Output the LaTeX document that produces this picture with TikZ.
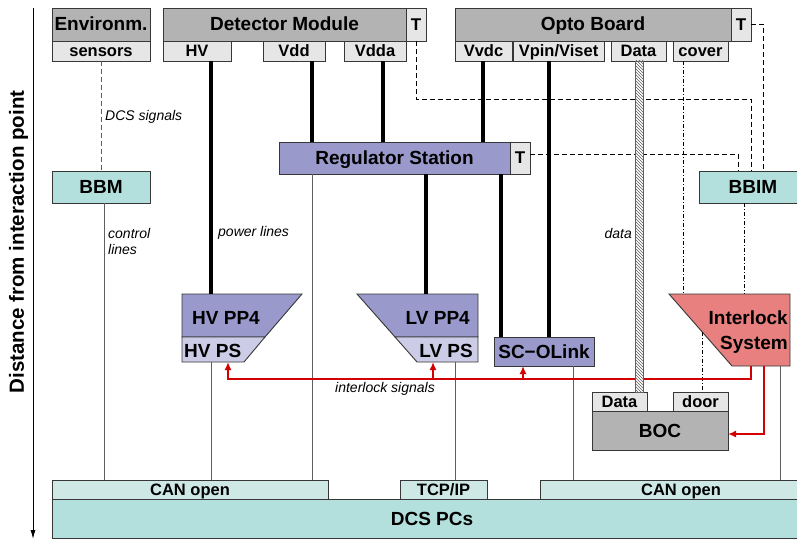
\documentclass[tikz,border=0pt]{standalone}
\usepackage{fontspec}
\setmainfont{Liberation Sans}
\usepackage{tikz}
\usetikzlibrary{shapes,arrows.meta,positioning,calc,patterns}
\definecolor{boxgray}{RGB}{179,179,179}
\definecolor{portgray}{RGB}{230,230,230}
\definecolor{regblue}{RGB}{153,153,204}
\definecolor{psblue}{RGB}{204,204,230}
\definecolor{bbteal}{RGB}{179,223,221}
\definecolor{canteal}{RGB}{206,232,230}
\definecolor{lockred}{RGB}{232,128,128}
\definecolor{sigred}{RGB}{210,0,0}
\definecolor{edgegray}{RGB}{55,55,55}
\definecolor{wiregray}{RGB}{95,95,95}

\begin{document}
\begin{tikzpicture}[
    x=1pt, y=-1pt,
    box/.style={rectangle, draw=edgegray, line width=0.9pt, inner sep=0pt, outer sep=0pt, align=center, text height=13.6pt, text depth=0.6pt, font=\fontsize{19}{25}\selectfont\bfseries},
    port/.style={box, fill=portgray, minimum height=20pt, text height=11.8pt, text depth=0.6pt, font=\fontsize{16.5}{18}\selectfont\bfseries},
    tbox/.style={box, fill=portgray, minimum width=20pt, text height=12.2pt, text depth=0.6pt, font=\fontsize{17}{18}\selectfont\bfseries},
    bold/.style={inner sep=0pt, text height=13.6pt, text depth=0.6pt, align=center, font=\fontsize{19}{25}\selectfont\bfseries},
    note/.style={inner sep=0pt, align=left, font=\fontsize{14}{16}\selectfont\itshape},
    outline/.style={draw=edgegray, line width=0.9pt, line join=miter},
    power/.style={line width=3.5pt, black},
    wire/.style={line width=1pt, wiregray},
    sensline/.style={line width=1pt, wiregray, dash pattern=on 5pt off 3pt},
    tline/.style={line width=0.8pt, black, dash pattern=on 5pt off 3pt},
    dotline/.style={line width=0.8pt, black, dash pattern=on 4pt off 2pt on 1pt off 2pt},
    sigline/.style={line width=2pt, sigred},
    sigarrow/.style={sigline, -{Latex[length=8pt,width=7pt]}},
    distaxis/.style={line width=1pt, black, -{Latex[length=9pt,width=5pt]}}
]
\useasboundingbox (0,0) rectangle (797,540);

% top row: modules and their service ports
\node[box, fill=boxgray, minimum width=98pt, minimum height=33pt] (env) at (101,24.5) {Environm.};
\node[port, minimum width=98pt] (sensors) at (101,51) {sensors};

\node[box, fill=boxgray, minimum width=243pt, minimum height=33pt] (detmod) at (284.5,24.5) {Detector Module};
\node[tbox, minimum height=33pt] (detT) at (416,24.5) {T};
\node[port, minimum width=68pt] (hv) at (197,51) {HV};
\node[port, minimum width=62pt] (vdd) at (294,51) {Vdd};
\node[port, minimum width=62pt] (vdda) at (375,51) {Vdda};

\node[box, fill=boxgray, minimum width=276pt, minimum height=33pt] (opto) at (593,24.5) {Opto Board};
\node[tbox, minimum height=33pt] (optoT) at (741,24.5) {T};
\node[port, minimum width=57pt] (vvdc) at (483.5,51) {Vvdc};
\node[port, minimum width=91pt] (vpin) at (558.5,51) {Vpin/Viset};
\node[port, minimum width=55pt] (data) at (638.5,51) {Data};
\node[port, minimum width=55pt] (cover) at (700.5,51) {cover};

% middle: regulator, monitors
\node[box, fill=regblue, minimum width=231pt, minimum height=32pt] (regst) at (394.5,158) {Regulator Station};
\node[tbox, minimum height=32pt] (regT) at (520,158) {T};
\node[box, fill=bbteal, minimum width=98pt, minimum height=32pt] (bbm) at (101,187) {BBM};
\node[box, fill=bbteal, minimum width=108pt, minimum height=32pt] (bbim) at (753,187) {BBIM};

% patch panels and power supplies
\coordinate (hvnw) at (182,294);
\coordinate (hvne) at (302,294);
\coordinate (hvw) at (182,337);
\coordinate (hve) at (265,337);
\coordinate (hvse) at (244,362);
\coordinate (hvsw) at (182,362);
\filldraw[outline, fill=regblue] (hvnw) -- (hvne) -- (hve) -- (hvw) -- cycle;
\filldraw[outline, fill=psblue] (hvw) -- (hve) -- (hvse) -- (hvsw) -- cycle;
\node[bold, anchor=west] (hvpp) at (192,318) {HV PP4};
\node[bold, anchor=west] (hvps) at (184,351) {HV PS};

\coordinate (lvnw) at (357,294);
\coordinate (lvne) at (478,294);
\coordinate (lvw) at (395,337);
\coordinate (lve) at (478,337);
\coordinate (lvse) at (478,362);
\coordinate (lvsw) at (417,362);
\filldraw[outline, fill=regblue] (lvnw) -- (lvne) -- (lve) -- (lvw) -- cycle;
\filldraw[outline, fill=psblue] (lvw) -- (lve) -- (lvse) -- (lvsw) -- cycle;
\node[bold, anchor=east] (lvpp) at (470,318) {LV PP4};
\node[bold, anchor=east] (lvps) at (473,351) {LV PS};

\node[box, fill=regblue, minimum width=100pt, minimum height=29pt] (scolink) at (544,351.5) {SC−OLink};

% interlock system
\coordinate (ilnw) at (669,294);
\coordinate (ilne) at (790,294);
\coordinate (ilse) at (790,366);
\coordinate (ilsw) at (732,366);
\filldraw[outline, fill=lockred] (ilnw) -- (ilne) -- (ilse) -- (ilsw) -- cycle;
\node[bold, align=right, anchor=east] (ilsys) at (788,343) {Interlock\\System};

% BOC
\node[port, minimum width=55pt, minimum height=19pt] (bocdata) at (619.5,401.5) {Data};
\node[port, minimum width=55pt, minimum height=19pt] (door) at (700.5,401.5) {door};
\node[box, fill=boxgray, minimum width=136pt, minimum height=39pt] (boc) at (660,430.5) {BOC};

% DCS computers
\node[port, fill=canteal, minimum width=276pt, minimum height=19pt] (canl) at (190,489.5) {CAN open};
\node[port, fill=canteal, minimum width=87pt, minimum height=19pt] (tcpip) at (443.5,489.5) {TCP/IP};
\node[port, fill=canteal, minimum width=282pt, minimum height=19pt] (canr) at (681,489.5) {CAN open};
\node[box, fill=bbteal, minimum width=760pt, minimum height=39pt] (dcs) at (432,518.5) {DCS PCs};

% lanes of the vertical lines
\coordinate (ctrllane) at (104,0);
\coordinate (hvlane) at (211,0);
\coordinate (vddlane) at (312,0);
\coordinate (vddalane) at (383,0);
\coordinate (lvlane) at (426,0);
\coordinate (tcplane) at (455,0);
\coordinate (vvdclane) at (483,0);
\coordinate (sclane) at (501,0);
\coordinate (vpinlane) at (549,0);
\coordinate (linklane) at (573,0);
\coordinate (coverlane) at (683,0);
\coordinate (doorlane) at (702,0);
\coordinate (bbimlane) at (744,0);
\coordinate (illane) at (780,0);
\coordinate (ildoor) at (702,332);

% power lines
\draw[power] (hv.south -| hvlane) -- (hvnw -| hvlane);
\draw[power] (vdd.south -| vddlane) -- (regst.north -| vddlane);
\draw[power] (vdda.south -| vddalane) -- (regst.north -| vddalane);
\draw[power] (vvdc.south -| vvdclane) -- (regst.north -| vvdclane);
\draw[power] (regst.south -| lvlane) -- (lvnw -| lvlane);
\draw[power] (regst.south -| sclane) -- (scolink.north -| sclane);
\draw[power] (vpin.south -| vpinlane) -- (scolink.north -| vpinlane);

% control lines to the DCS PCs
\draw[wire] (bbm.south -| ctrllane) -- (canl.north -| ctrllane);
\draw[wire] (hvsw -| hvlane) -- (canl.north -| hvlane);
\draw[wire] (regst.south -| vddlane) -- (canl.north -| vddlane);
\draw[wire] (lvse -| tcplane) -- (tcpip.north -| tcplane);
\draw[wire] (scolink.south -| linklane) -- (canr.north -| linklane);
\draw[wire] (ilse -| illane) -- (canr.north -| illane);

% DCS signals and temperature lines
\draw[sensline] (sensors) -- (bbm);
\draw[tline] (detT.south) -- ++(0,58) -| ([xshift=-2pt]bbim.north);
\draw[tline] ([yshift=4pt]regT.east) -| ([xshift=-15pt]bbim.north);
\draw[tline] (optoT.east) -| ([xshift=10pt]bbim.north);
\draw[dotline] (cover.south -| coverlane) -- (ilnw -| coverlane);
\draw[dotline] (bbim.south -| bbimlane) -- (ilnw -| bbimlane);
\draw[dotline] (ildoor) -- (door.north -| doorlane);

% interlock signals
\coordinate (ilout1) at (751,366);
\coordinate (ilout2) at (764,366);
\coordinate (sigbus) at (751,379);
\coordinate (hvin) at (228,362);
\coordinate (lvin) at (433,362);
\coordinate (scin) at (523,366);
\draw[sigarrow] (ilout1) |- (hvin |- sigbus) -- (hvin);
\draw[sigarrow] (lvin |- sigbus) -- (lvin);
\draw[sigarrow] (scin |- sigbus) -- (scin);
\draw[sigarrow] (ilout2) |- ([yshift=-3.5pt]boc.east);

% optical data fibre
\draw[draw=wiregray, line width=0.8pt, preaction={fill=white}, pattern=north west lines, pattern color=wiregray]
    ([xshift=-3pt]data.south) rectangle ([xshift=5pt]data.south |- bocdata.north);

% labels
\node[note, anchor=west] (dcssig) at (105,117) {DCS signals};
\node[note, anchor=west] (ctrl) at (108,241) {control\\lines};
\node[note, anchor=west] (pwr) at (218,233) {power lines};
\node[note, anchor=east] (datal) at (632,233) {data};
\node[note] (intsig) at (385,389) {interlock signals};

% distance axis
\coordinate (axtop) at (33,8);
\coordinate (axbot) at (33,539);
\draw[distaxis] (axtop) -- (axbot);
\node[bold, rotate=90, text height=14.3pt, font=\fontsize{20.5}{22}\selectfont\bfseries] (axlabel) at (17,242) {Distance from interaction point};

\end{tikzpicture}
\end{document}
